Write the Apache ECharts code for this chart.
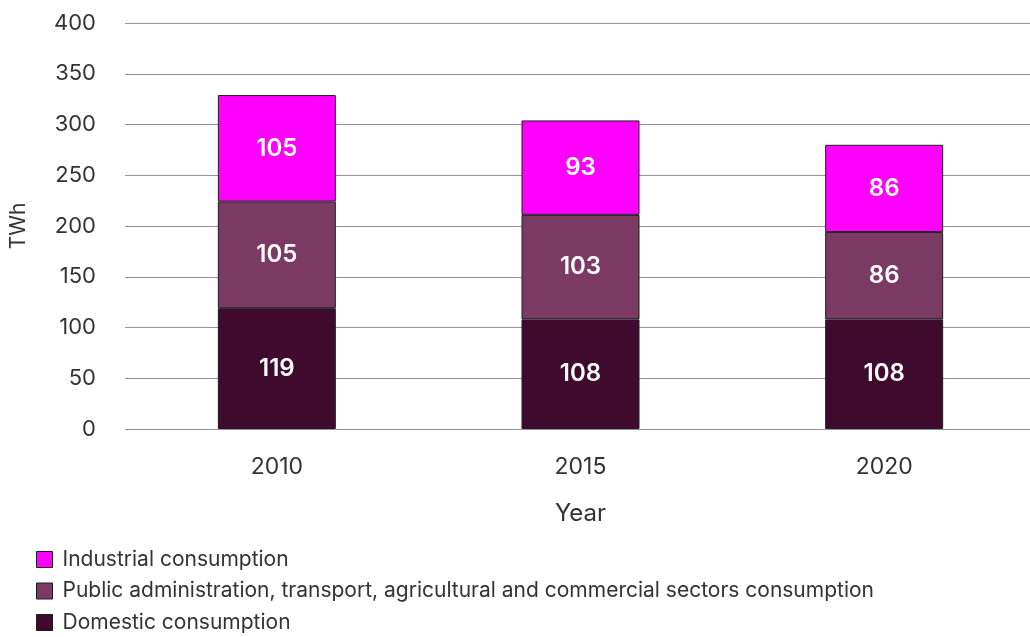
<!DOCTYPE html>
<html>
<head>
<meta charset="utf-8">
<script src="https://cdn.jsdelivr.net/npm/echarts@6/dist/echarts.min.js"></script>
<style>
  html, body { margin: 0; padding: 0; background: #ffffff; overflow: hidden; }
  #chart { width: 1040px; height: 637px; }
</style>
</head>
<body>
<div id="chart"></div>
<script>
// Electricity consumption by sector (TWh)
const years = ['2010', '2015', '2020'];
const domestic = [119, 108, 108];
const publicSectors = [105, 103, 86];
const industrial = [105, 93, 86];
const seriesNames = [
  'Industrial consumption',
  'Public administration, transport, agricultural and commercial sectors consumption',
  'Domestic consumption'
];
const yTicks = { min: 0, max: 400, interval: 50 };

const FONT = 'Inter, "Open Sans", sans-serif';
const colors = {
  industrial: '#ff00ff',
  publicSectors: '#7a3a63',
  domestic: '#3f0a2e'
};

const chart = echarts.init(document.getElementById('chart'), null, { renderer: 'canvas' });

function barSeries(name, data, color) {
  return {
    name: name,
    type: 'bar',
    stack: 'total',
    data: data,
    barWidth: 118,
    itemStyle: { color: color, borderColor: '#1e1e1e', borderWidth: 1 },
    label: {
      show: true,
      position: 'inside',
      color: '#ffffff',
      fontFamily: FONT,
      fontSize: 24,
      fontWeight: 600
    },
    emphasis: { disabled: true }
  };
}

chart.setOption({
  animation: false,
  textStyle: { fontFamily: FONT },
  grid: { left: 124, top: 23, width: 912, height: 406, containLabel: false },
  legend: {
    orient: 'vertical',
    left: 36,
    top: 549,
    padding: 0,
    itemWidth: 16,
    itemHeight: 16,
    itemGap: 10.5,
    icon: 'rect',
    data: seriesNames,
    itemStyle: { borderColor: '#1e1e1e', borderWidth: 1 },
    textStyle: { fontFamily: FONT, fontSize: 21, lineHeight: 20, color: '#333333', padding: [0, 0, 0, 5] }
  },
  xAxis: {
    type: 'category',
    data: years,
    name: 'Year',
    nameLocation: 'middle',
    nameGap: 73,
    nameTextStyle: { fontFamily: FONT, fontSize: 24, color: '#333333' },
    axisLine: { show: false },
    axisTick: { show: false },
    axisLabel: { fontFamily: FONT, fontSize: 23, color: '#333333', margin: 27 }
  },
  yAxis: {
    type: 'value',
    min: yTicks.min,
    max: yTicks.max,
    interval: yTicks.interval,
    name: 'TWh',
    nameLocation: 'middle',
    nameGap: 96,
    nameRotate: 90,
    nameTextStyle: { fontFamily: FONT, fontSize: 21, color: '#333333' },
    axisLine: { show: false },
    axisTick: { show: false },
    axisLabel: { fontFamily: FONT, fontSize: 22, color: '#333333', margin: 29 },
    splitLine: { lineStyle: { color: '#a38c9b', width: 1.2 } }
  },
  series: [
    barSeries(seriesNames[2], domestic, colors.domestic),
    barSeries(seriesNames[1], publicSectors, colors.publicSectors),
    barSeries(seriesNames[0], industrial, colors.industrial)
  ]
});
</script>
</body>
</html>
